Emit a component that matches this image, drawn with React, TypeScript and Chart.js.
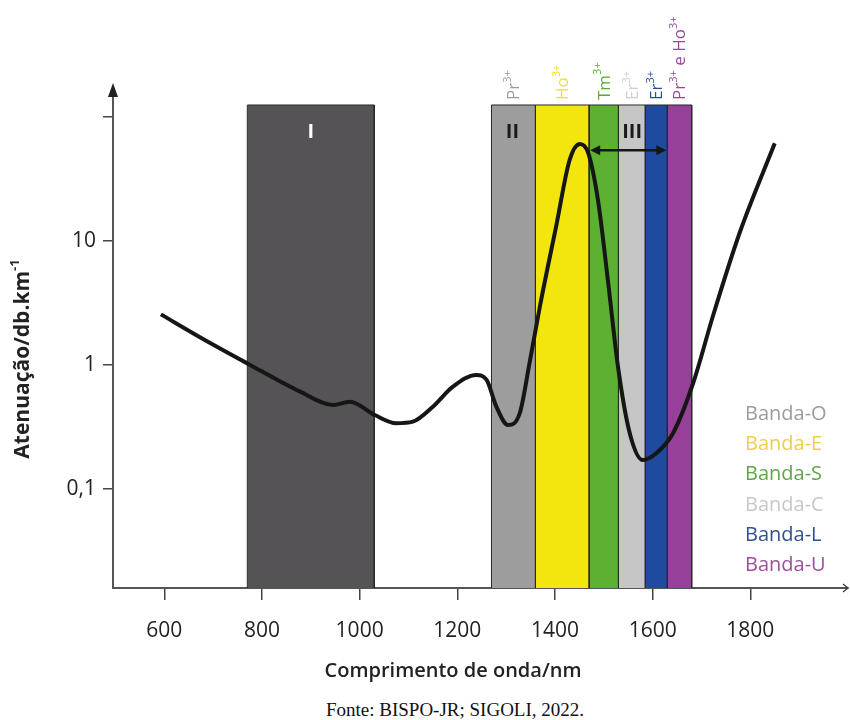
import React, { useEffect, useRef } from 'react';
import { Chart, registerables } from 'chart.js';
Chart.register(...registerables);

const FONT = "'Open Sans', 'Noto Sans', sans-serif";

// Attenuation curve (nm, dB/km)
const wavelengths = [593, 683, 770, 878, 946, 980, 1031, 1075, 1109, 1150, 1191, 1239, 1260, 1280, 1304, 1328, 1348, 1369, 1403, 1430, 1451, 1468, 1488, 1509, 1529, 1553, 1580, 1608, 1642, 1683, 1723, 1778, 1850];
const attenuation = [2.56, 1.59, 1.03, 0.61, 0.476, 0.506, 0.395, 0.339, 0.349, 0.461, 0.668, 0.831, 0.757, 0.461, 0.328, 0.41, 1.04, 2.95, 13.5, 45, 60.6, 51.3, 21.4, 4.59, 0.97, 0.283, 0.171, 0.195, 0.283, 0.716, 2.45, 11.6, 61.4];

// First window (I)
const windowI = [770, 1030];
const windowIColor = '#555355';

// Telecom bands
const bandNames = ['Banda-O', 'Banda-E', 'Banda-S', 'Banda-C', 'Banda-L', 'Banda-U'];
const bandEdges = [1270, 1360, 1470, 1530, 1585, 1630, 1680];
const bandFills = ['#9d9d9d', '#f3e60f', '#5db131', '#c6c6c6', '#1f4b9f', '#97409a'];
const bandIons = ['Pr^{3+}', 'Ho^{3+}', 'Tm^{3+}', 'Er^{3+}', 'Er^{3+}', 'Pr^{3+} e Ho^{3+}'];
const ionColors = ['#9c9c9c', '#efe12e', '#5aaa38', '#cfcfcf', '#23509c', '#9a4697'];
const legendColors = ['#9c9c9c', '#f0cd4c', '#5ea748', '#c8c8c8', '#2d5192', '#9b4f9c'];

// Window labels
const romanLabels = ['I', 'II', 'III'];
const romanAt = [900, 1313, 1558];
const romanColors = ['#ffffff', '#1a1a1a', '#1a1a1a'];
const arrowRange = [1470, 1630];
const arrowLevel = 54;

// Axes
const xMin = 495, xMax = 2000;
const yMin = 0.0159, yMax = 171.4;
const bandTop = 125;
const xTicks = [600, 800, 1000, 1200, 1400, 1600, 1800];
const yTicks = [0.1, 1, 10, 100];
const yTickLabels = ['0,1', '1', '10', ''];
const xTitle = 'Comprimento de onda/nm';
const yTitle = 'Atenuação/db.km^{-1}';

function richWidth(ctx: CanvasRenderingContext2D, text: string, size: number, weight = '') {
  const parts = text.split(/(\^\{[^}]*\})/).filter(p => p.length);
  let w = 0;
  parts.forEach(p => {
    const sup = p.startsWith('^{');
    const t = sup ? p.slice(2, -1) : p;
    ctx.font = `${weight} ${sup ? Math.round(size * 0.62) : size}px ${FONT}`;
    w += ctx.measureText(t).width;
  });
  return w;
}

function drawRich(ctx: CanvasRenderingContext2D, text: string, size: number, weight = '') {
  const parts = text.split(/(\^\{[^}]*\})/).filter(p => p.length);
  let pos = 0;
  parts.forEach(p => {
    const sup = p.startsWith('^{');
    const t = sup ? p.slice(2, -1) : p;
    ctx.font = `${weight} ${sup ? Math.round(size * 0.62) : size}px ${FONT}`;
    ctx.fillText(t, pos, sup ? -size * 0.38 : 0);
    pos += ctx.measureText(t).width;
  });
}

const overlay = {
  id: 'overlay',
  afterDatasetsDraw(chart: any) {
    const { ctx, scales: { x, y }, chartArea } = chart;
    ctx.save();
    const topPx = y.getPixelForValue(bandTop);

    // Roman numerals
    ctx.font = `bold 20px ${FONT}`;
    ctx.textAlign = 'center';
    ctx.textBaseline = 'middle';
    romanLabels.forEach((t, i) => {
      ctx.fillStyle = romanColors[i];
      ctx.fillText(t, x.getPixelForValue(romanAt[i]), topPx + 27);
    });

    // Double arrow
    const ax0 = x.getPixelForValue(arrowRange[0]) + 1;
    const ax1 = x.getPixelForValue(arrowRange[1]) - 1;
    const ay = y.getPixelForValue(arrowLevel);
    ctx.strokeStyle = '#161616';
    ctx.fillStyle = '#161616';
    ctx.lineWidth = 2.5;
    ctx.beginPath();
    ctx.moveTo(ax0 + 6, ay);
    ctx.lineTo(ax1 - 6, ay);
    ctx.stroke();
    ctx.beginPath();
    ctx.moveTo(ax0, ay); ctx.lineTo(ax0 + 10, ay - 5); ctx.lineTo(ax0 + 10, ay + 5); ctx.closePath(); ctx.fill();
    ctx.beginPath();
    ctx.moveTo(ax1, ay); ctx.lineTo(ax1 - 10, ay - 5); ctx.lineTo(ax1 - 10, ay + 5); ctx.closePath(); ctx.fill();

    // Ion labels (rotated)
    ctx.textAlign = 'left';
    ctx.textBaseline = 'middle';
    bandIons.forEach((lbl, i) => {
      const cx = x.getPixelForValue((bandEdges[i] + bandEdges[i + 1]) / 2);
      ctx.save();
      ctx.translate(cx + 1, topPx - 5);
      ctx.rotate(-Math.PI / 2);
      ctx.fillStyle = ionColors[i];
      drawRich(ctx, lbl, 17);
      ctx.restore();
    });

    // Legend text
    ctx.font = `20px ${FONT}`;
    ctx.textAlign = 'left';
    ctx.textBaseline = 'middle';
    bandNames.forEach((n, i) => {
      ctx.fillStyle = legendColors[i];
      ctx.fillText(n, 745, 414 + i * 30.3);
    });

    // Axis arrowheads
    ctx.fillStyle = '#222';
    const l = chartArea.left, b = chartArea.bottom, r = chartArea.right, t = chartArea.top;
    ctx.beginPath();
    ctx.moveTo(l, t - 5); ctx.lineTo(l - 5, t + 9); ctx.lineTo(l + 5, t + 9); ctx.closePath(); ctx.fill();
    ctx.strokeStyle = '#333';
    ctx.lineWidth = 1.2;
    ctx.beginPath();
    ctx.moveTo(r - 5, b - 4); ctx.lineTo(r, b); ctx.lineTo(r - 5, b + 4);
    ctx.stroke();

    // Axis titles
    ctx.fillStyle = '#222';
    ctx.textAlign = 'center';
    ctx.textBaseline = 'middle';
    ctx.font = `600 20px ${FONT}`;
    ctx.fillText(xTitle, 453, 671);

    ctx.textAlign = 'left';
    const yw = richWidth(ctx, yTitle, 21, 'bold');
    ctx.save();
    ctx.translate(23, 359 + yw / 2);
    ctx.rotate(-Math.PI / 2);
    drawRich(ctx, yTitle, 21, 'bold');
    ctx.restore();
    ctx.restore();
  },
};

export default function App() {
  const ref = useRef<HTMLCanvasElement>(null);
  useEffect(() => {
    if (!ref.current) return;
    const rect = (x0: number, x1: number) => [
      { x: x0, y: yMin }, { x: x0, y: bandTop }, { x: x1, y: bandTop }, { x: x1, y: yMin },
    ];
    const bandSets = bandNames.map((n, i) => ({
      label: n,
      data: rect(bandEdges[i], bandEdges[i + 1]),
      backgroundColor: bandFills[i],
      borderColor: '#2a2a2a',
      borderWidth: 1,
      pointRadius: 0,
      fill: 'start',
      tension: 0,
      order: 2,
    }));
    const chart = new Chart(ref.current, {
      type: 'line',
      data: {
        datasets: [
          {
            label: 'Atenuação',
            data: wavelengths.map((w, i) => ({ x: w, y: attenuation[i] })),
            borderColor: '#161616',
            borderWidth: 4,
            pointRadius: 0,
            fill: false,
            cubicInterpolationMode: 'monotone',
            order: 0,
          },
          {
            label: 'I',
            data: rect(windowI[0], windowI[1]),
            backgroundColor: windowIColor,
            borderColor: '#2a2a2a',
            borderWidth: 1,
            pointRadius: 0,
            fill: 'start',
            tension: 0,
            order: 2,
          },
          ...bandSets,
        ] as any,
      },
      options: {
        responsive: false,
        animation: false,
        events: [],
        layout: { padding: { left: 0, top: 88, right: 2, bottom: 0 } },
        plugins: { legend: { display: false }, tooltip: { enabled: false }, title: { display: false } },
        scales: {
          x: {
            type: 'linear',
            min: xMin,
            max: xMax,
            afterBuildTicks: (s: any) => { s.ticks = xTicks.map(v => ({ value: v })); },
            afterFit: (s: any) => { s.height = 102; },
            grid: { drawOnChartArea: false, drawTicks: true, tickLength: 12, color: '#444', lineWidth: 1.5 },
            border: { color: '#555', width: 2 },
            ticks: { color: '#222', font: { family: FONT, size: 21 }, padding: 18, autoSkip: false, maxRotation: 0, callback: (v: any) => String(v) },
            title: { display: false },
          },
          y: {
            type: 'logarithmic',
            min: yMin,
            max: yMax,
            afterBuildTicks: (s: any) => { s.ticks = yTicks.map(v => ({ value: v })); },
            afterFit: (s: any) => { s.width = 113; },
            grid: { drawOnChartArea: false, drawTicks: true, tickLength: 10, color: '#444', lineWidth: 1.5 },
            border: { color: '#555', width: 2 },
            ticks: {
              color: '#222', font: { family: FONT, size: 21 }, padding: 7, autoSkip: false,
              callback: (v: any) => { const k = yTicks.indexOf(Number(v)); return k >= 0 ? yTickLabels[k] : ''; },
            },
            title: { display: false },
          },
        },
      } as any,
      plugins: [overlay],
    });
    return () => chart.destroy();
  }, []);

  return (
    <div style={{ position: 'absolute', left: 0, top: 0, width: 850, height: 720, background: '#fff' }}>
      <canvas ref={ref} width={850} height={690} style={{ position: 'absolute', left: 0, top: 0, width: 850, height: 690 }} />
      <div style={{ position: 'absolute', left: 0, top: 698, width: 850, textAlign: 'center', paddingLeft: 60, boxSizing: 'border-box', fontFamily: "'Liberation Serif', 'Times New Roman', serif", fontSize: 19, lineHeight: '24px', color: '#111' }}>
        Fonte: BISPO-JR; SIGOLI, 2022.
      </div>
    </div>
  );
}
